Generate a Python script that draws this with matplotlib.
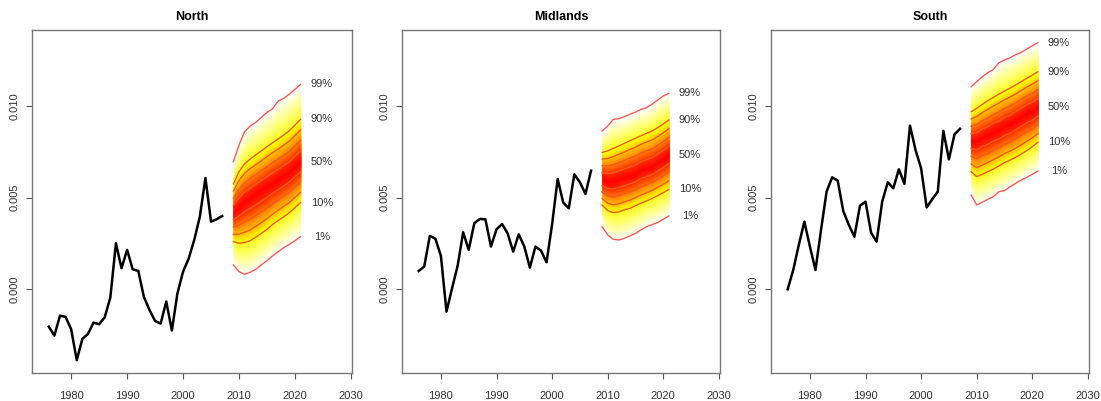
import numpy as np
import matplotlib.pyplot as plt
from matplotlib.colors import LinearSegmentedColormap

plt.rcParams['font.family'] = ['Liberation Sans', 'DejaVu Sans']

# observed series
years = list(range(1976, 2008))
north = [-0.00204, -0.00253, -0.00144, -0.00151, -0.00218, -0.00387, -0.00271, -0.00244,
         -0.00182, -0.00191, -0.00153, -0.00045, 0.00251, 0.00115, 0.00215, 0.00109,
         0.00100, -0.00042, -0.00113, -0.00173, -0.00187, -0.00067, -0.00225, -0.00022,
         0.00096, 0.00167, 0.00269, 0.00396, 0.00607, 0.00369, 0.00382, 0.00400]
midlands = [0.00100, 0.00124, 0.00291, 0.00276, 0.00182, -0.00122, 0.00005, 0.00127,
            0.00311, 0.00215, 0.00360, 0.00384, 0.00382, 0.00233, 0.00327, 0.00356,
            0.00305, 0.00205, 0.00300, 0.00233, 0.00118, 0.00233, 0.00211, 0.00147,
            0.00355, 0.00602, 0.00473, 0.00442, 0.00627, 0.00584, 0.00520, 0.00647]
south = [0.00000, 0.00105, 0.00242, 0.00369, 0.00233, 0.00105, 0.00324, 0.00533,
         0.00611, 0.00593, 0.00427, 0.00351, 0.00287, 0.00456, 0.00478, 0.00309,
         0.00260, 0.00478, 0.00584, 0.00551, 0.00655, 0.00575, 0.00893, 0.00760,
         0.00660, 0.00447, 0.00491, 0.00533, 0.00865, 0.00709, 0.00845, 0.00876]

# forecast quantiles (1%, 10%, 50%, 90%, 99%)
fyears = list(range(2009, 2022))
probs = [0.01, 0.10, 0.50, 0.90, 0.99]

north_q01 = [0.00133, 0.00096, 0.00082, 0.00093, 0.00109, 0.00133, 0.00156, 0.00182, 0.00204, 0.00227, 0.00245, 0.00265, 0.00287]
north_q10 = [0.00260, 0.00251, 0.00255, 0.00265, 0.00284, 0.00305, 0.00327, 0.00353, 0.00375, 0.00396, 0.00418, 0.00445, 0.00473]
north_q50 = [0.00420, 0.00450, 0.00480, 0.00500, 0.00520, 0.00540, 0.00560, 0.00580, 0.00600, 0.00620, 0.00640, 0.00670, 0.00696]
north_q90 = [0.00575, 0.00642, 0.00684, 0.00711, 0.00733, 0.00755, 0.00778, 0.00800, 0.00820, 0.00842, 0.00865, 0.00896, 0.00927]
north_q99 = [0.00696, 0.00787, 0.00860, 0.00891, 0.00911, 0.00938, 0.00965, 0.00985, 0.01027, 0.01042, 0.01065, 0.01091, 0.01118]

mid_q01 = [0.00342, 0.00296, 0.00273, 0.00269, 0.00278, 0.00291, 0.00305, 0.00324, 0.00342, 0.00353, 0.00364, 0.00382, 0.00400]
mid_q10 = [0.00460, 0.00429, 0.00418, 0.00422, 0.00433, 0.00442, 0.00456, 0.00469, 0.00482, 0.00496, 0.00511, 0.00527, 0.00545]
mid_q50 = [0.00600, 0.00590, 0.00590, 0.00600, 0.00610, 0.00620, 0.00630, 0.00650, 0.00660, 0.00670, 0.00690, 0.00710, 0.00733]
mid_q90 = [0.00747, 0.00755, 0.00769, 0.00782, 0.00796, 0.00811, 0.00824, 0.00838, 0.00851, 0.00864, 0.00882, 0.00902, 0.00924]
mid_q99 = [0.00864, 0.00891, 0.00927, 0.00931, 0.00942, 0.00955, 0.00967, 0.00982, 0.00991, 0.01011, 0.01033, 0.01055, 0.01069]

south_q01 = [0.00515, 0.00460, 0.00475, 0.00491, 0.00505, 0.00533, 0.00538, 0.00560, 0.00578, 0.00596, 0.00611, 0.00627, 0.00645]
south_q10 = [0.00642, 0.00615, 0.00627, 0.00642, 0.00656, 0.00673, 0.00691, 0.00705, 0.00720, 0.00738, 0.00756, 0.00778, 0.00802]
south_q50 = [0.00810, 0.00810, 0.00830, 0.00840, 0.00860, 0.00870, 0.00890, 0.00900, 0.00920, 0.00940, 0.00960, 0.00970, 0.00993]
south_q90 = [0.00969, 0.00987, 0.01009, 0.01029, 0.01047, 0.01065, 0.01082, 0.01098, 0.01115, 0.01133, 0.01151, 0.01169, 0.01187]
south_q99 = [0.01105, 0.01133, 0.01160, 0.01182, 0.01200, 0.01236, 0.01251, 0.01264, 0.01280, 0.01293, 0.01311, 0.01329, 0.01345]

titles = ["North", "Midlands", "South"]
obs = [north, midlands, south]
fans = [[north_q01, north_q10, north_q50, north_q90, north_q99],
        [mid_q01, mid_q10, mid_q50, mid_q90, mid_q99],
        [south_q01, south_q10, south_q50, south_q90, south_q99]]
fan_labels = ["1%", "10%", "50%", "90%", "99%"]

# heat-style palette: red in the middle, fading to white at the tails
cmap = LinearSegmentedColormap.from_list(
    "fan", [(0.0, "#ff0000"), (0.2, "#ff2a00"), (0.5, "#ff9a00"), (0.8, "#ffff00"), (1.0, "#fffff4")])

boxes = [[32, 352], [402, 720], [771, 1089]]
W, H = 1101, 401

fig = plt.figure(figsize=(11.01, 4.01), dpi=100)

for k in range(3):
    l, r = boxes[k]
    ax = fig.add_axes([l / W, (H - 373) / H, (r - l) / W, 343 / H])
    qarr = np.array(fans[k])  # shape (5, n_years)
    fy = np.array(fyears)

    # quantile function for each year (between the stored quantiles)
    def qf(p):
        return np.array([np.interp(p, probs, qarr[:, j]) for j in range(len(fy))])

    # shaded fan: nested bands, widest first, so there are no seams
    for d in np.linspace(0.49, 0.005, 90):
        c = cmap(d / 0.49)
        ax.fill_between(fy, qf(0.5 - d), qf(0.5 + d), color=c, lw=0, zorder=1)

    # contour lines
    for p in [0.1, 0.2, 0.3, 0.4, 0.6, 0.7, 0.8, 0.9]:
        ax.plot(fy, qf(p), color="#f05a1e", lw=1.0, zorder=2)
    for p in [0.01, 0.99]:
        ax.plot(fy, qf(p), color="#ff5a5a", lw=1.0, zorder=2)

    # labels at end of fan
    for lab, qv in zip(fan_labels, qarr[:, -1]):
        ax.text(2024.8, qv, lab, ha="center", va="center", fontsize=8, color="#333333")

    ax.plot(years, obs[k], color="black", lw=1.8, zorder=3)

    ax.set_xlim(1973, 2030.2)
    ax.set_ylim(-0.00457, 0.01415)
    ax.set_xticks([1980, 1990, 2000, 2010, 2020, 2030])
    ax.set_yticks([0.0, 0.005, 0.010])
    ax.set_yticklabels(["0.000", "0.005", "0.010"], rotation=90, va="center")
    ax.tick_params(axis="x", pad=9)
    ax.tick_params(axis="y", pad=5)
    ax.tick_params(labelsize=8, colors="#555555", labelcolor="#333333", length=4)
    for s in ax.spines.values():
        s.set_color("#777777")
        s.set_linewidth(1.0)
    ax.set_title(titles[k], fontsize=9, fontweight="bold", pad=7)

fig.savefig("out.png", dpi=100)
